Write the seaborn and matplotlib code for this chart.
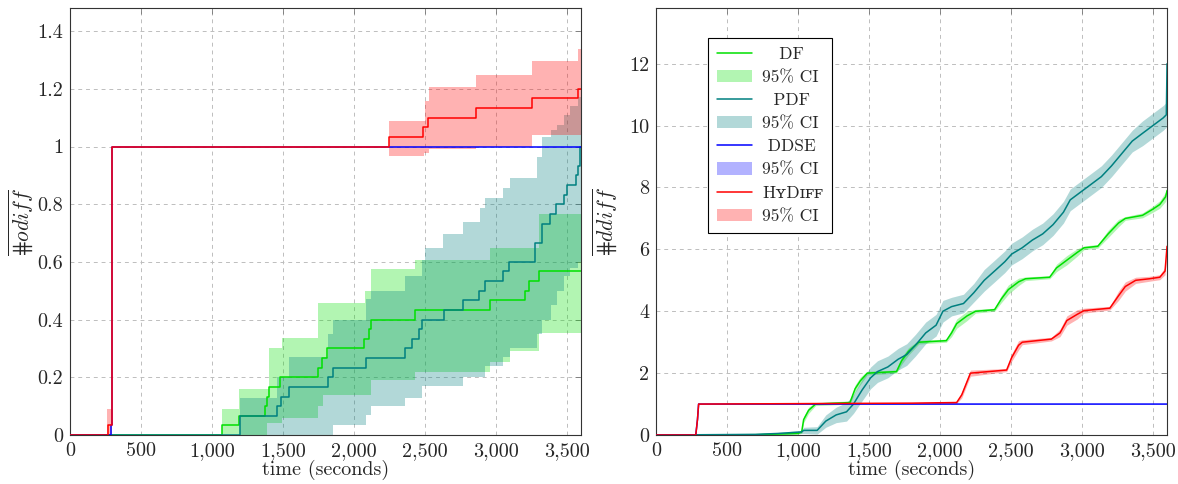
import numpy as np
import seaborn as sns
import matplotlib as mpl
import matplotlib.pyplot as plt
from matplotlib.lines import Line2D
from matplotlib.patches import Patch
from matplotlib.ticker import FuncFormatter, MultipleLocator

# ---------------- left panel: #odiff (step curves) ----------------
df_l_t = [0, 1071, 1188, 1374, 1390, 1400, 1482, 1746, 1774, 1812, 2071, 2110,
          2123, 2428, 2958, 3205, 3233, 3304, 3600]
df_l_y = [0, .033, .067, .1, .133, .167, .2, .233, .267, .3, .333, .367,
          .4, .433, .467, .5, .533, .567, .567]
df_l_ci_t = [0, 1071, 1188, 1388, 1400, 1491, 1750, 1781, 2080, 2123, 2428,
             2958, 3099, 3304, 3600]
df_l_hi = [0, .09, .158, .158, .3, .337, .458, .458, .498, .576, .607,
           .648, .648, .767, .767]
df_l_lo = [0, 0, 0, .04, .04, .06, .1, .14, .14, .19, .22,
           .254, .29, .354, .371]

pdf_l_t = [0, 1198, 1456, 1487, 1541, 1821, 1851, 2082, 2357, 2407, 2460, 2482,
           2633, 2770, 2882, 2922, 3052, 3095, 3276, 3323, 3382, 3424, 3483,
           3504, 3562, 3580, 3596, 3600]
pdf_l_y = [0, .067, .1, .133, .167, .2, .233, .267, .3, .333, .367, .4,
           .433, .467, .5, .533, .567, .6, .667, .733, .767, .8, .833,
           .867, .9, .933, 1.0, 1.0]
pdf_l_ci_t = [0, 1198, 1456, 1541, 1821, 1851, 2082, 2120, 2357, 2482, 2500,
              2628, 2770, 2887, 2922, 3052, 3099, 3287, 3323, 3390, 3430,
              3480, 3520, 3577, 3600]
pdf_l_hi = [0, .13, .2, .27, .35, .4, .47, .5, .55, .607, .648,
            .697, .737, .786, .82, .855, .89, .965, 1.034, 1.057, 1.074,
            1.11, 1.14, 1.17, 1.17]
pdf_l_lo = [0, 0, 0, 0, 0, .035, .07, .1, .13, .17, .17,
            .17, .2, .2, .24, .27, .3, .35, .4, .45, .5,
            .55, .58, .6, .6]

ddse_l_t = [0, 290, 298, 3600]
ddse_l_y = [0, .033, 1.0, 1.0]

hy_l_t = [0, 268, 296, 2245, 2490, 2525, 2859, 3252, 3577, 3600]
hy_l_y = [0, .033, 1.0, 1.033, 1.067, 1.1, 1.133, 1.167, 1.2, 1.2]
hy_l_ci_t = [0, 262, 296, 2245, 2492, 2501, 2530, 2859, 3252, 3577, 3600]
hy_l_hi = [0, .09, 1.0, 1.089, 1.089, 1.158, 1.207, 1.247, 1.297, 1.337, 1.337]
hy_l_lo = [0, 0, 1.0, .968, .976, .976, .99, 1.0, 1.04, 1.04, 1.04]

# ---------------- right panel: #ddiff ----------------
df_r_t = [0, 700, 1000, 1026, 1040, 1075, 1124, 1366, 1403, 1439, 1488,
          1694, 1730, 1778, 1851, 2045, 2082, 2118, 2191, 2251, 2385, 2433,
          2482, 2554, 2603, 2773, 2821, 2894, 2967, 3015, 3112, 3185, 3258,
          3306, 3427, 3500, 3549, 3590, 3600]
df_r_y = [0, .01, .05, .1, .5, .8, 1.0, 1.05, 1.5, 1.75, 2.0,
          2.05, 2.4, 2.7, 3.0, 3.05, 3.3, 3.6, 3.85, 4.0, 4.05, 4.4,
          4.7, 4.95, 5.05, 5.1, 5.4, 5.65, 5.9, 6.05, 6.1, 6.5, 6.85,
          7.0, 7.1, 7.3, 7.45, 7.7, 7.9]
df_r_hw = [0, 0, .02, .05, .1, .1, .05, .05, .12, .12, .06,
           .05, .12, .12, .06, .05, .12, .15, .15, .06, .05, .12,
           .15, .12, .06, .05, .12, .15, .12, .06, .06, .12, .12,
           .06, .08, .1, .12, .15, .15]

pdf_r_t = [0, 700, 856, 1026, 1040, 1135, 1196, 1269, 1342, 1391, 1451,
           1512, 1560, 1633, 1706, 1766, 1827, 1900, 1973, 2021, 2082,
           2166, 2239, 2312, 2385, 2457, 2506, 2579, 2651, 2724, 2797,
           2870, 2918, 2991, 3064, 3137, 3209, 3282, 3355, 3427, 3500,
           3573, 3595, 3600]
pdf_r_y = [0, .02, .05, .1, .15, .15, .45, .65, .75, 1.0, 1.45,
           1.85, 2.05, 2.2, 2.45, 2.6, 2.9, 3.3, 3.55, 4.0, 4.15,
           4.25, 4.6, 5.0, 5.3, 5.6, 5.85, 6.05, 6.3, 6.5, 6.8,
           7.2, 7.6, 7.85, 8.1, 8.35, 8.7, 9.1, 9.5, 9.75, 10.0,
           10.25, 10.35, 12.0]
pdf_r_hw = [0, .02, .03, .05, .1, .12, .2, .25, .3, .3, .35,
            .35, .35, .35, .35, .35, .35, .35, .35, .35, .3,
            .3, .3, .35, .35, .35, .35, .35, .35, .35, .35,
            .35, .35, .35, .35, .35, .35, .35, .35, .4, .4,
            .4, .4, .4]

ddse_r_t = [0, 280, 292, 300, 3600]
ddse_r_y = [0, 0, .5, 1.0, 1.0]

hy_r_t = [0, 280, 292, 300, 1800, 2118, 2154, 2215, 2470, 2505, 2554, 2580,
          2785, 2846, 2894, 2967, 3015, 3197, 3258, 3306, 3379, 3476, 3549,
          3586, 3600]
hy_r_y = [0, 0, .5, 1.0, 1.03, 1.05, 1.3, 2.0, 2.1, 2.5, 2.9, 3.0,
          3.1, 3.3, 3.7, 3.9, 4.02, 4.1, 4.5, 4.8, 5.0, 5.05, 5.1,
          5.3, 6.1]
hy_r_hw = [0, 0, .05, 0, .02, .03, .1, .1, .05, .12, .15, .08,
           .06, .12, .15, .15, .08, .06, .15, .15, .1, .08, .08,
           .12, .12]

# legend labels (leading spaces centre the short names like the original)
labels = ["   DF", "95% CI", "  PDF", "95% CI", " DDSE", "95% CI",
          "H\u028fD\u026a\ua730\ua730", "95% CI"]
colors = {"DF": "#00e000", "PDF": "#008080", "DDSE": "#0000ff", "HyDiff": "#ff0000"}

# Set plot parameters
sns.set_style("white")
mpl.rcParams["font.family"] = ["cmr10", "DejaVu Serif"]
mpl.rcParams["mathtext.fontset"] = "cm"
mpl.rcParams["axes.formatter.use_mathtext"] = True
mpl.rcParams["axes.unicode_minus"] = False

LW = 1.1
ALPHA = 0.3


def style_axis(ax, ymax, ystep, ylabel, label_x):
    ax.set_xlim(0, 3600)
    ax.set_ylim(0, ymax)
    ax.xaxis.set_major_locator(MultipleLocator(500))
    ax.yaxis.set_major_locator(MultipleLocator(ystep))
    ax.xaxis.set_major_formatter(FuncFormatter(lambda v, p: f"{int(round(v)):,}"))
    ax.yaxis.set_major_formatter(FuncFormatter(lambda v, p: f"{round(v, 1):g}"))
    ax.tick_params(direction="in", length=4, width=0.6, color="#777777",
                   top=True, right=True, labelsize=14.5, pad=5)
    ax.grid(True, color="#bdbdbd", lw=0.7, ls=(0, (4, 4)))
    ax.set_axisbelow(True)
    for s in ax.spines.values():
        s.set_color("#333333")
        s.set_linewidth(0.8)
    ax.set_xlabel("time (seconds)", fontsize=14.5, labelpad=0)
    ax.set_ylabel(ylabel, fontsize=15.5)
    ax.yaxis.set_label_coords(label_x, 0.5)


fig = plt.figure(figsize=(11.78, 4.84), dpi=100)
ax1 = fig.add_axes([0.0594, 0.1012, 0.4338, 0.8822])
ax2 = fig.add_axes([0.5569, 0.1012, 0.4338, 0.8822])

# Left panel: step curves with step confidence bands
for t, lo, hi, c in [(df_l_ci_t, df_l_lo, df_l_hi, colors["DF"]),
                     (pdf_l_ci_t, pdf_l_lo, pdf_l_hi, colors["PDF"]),
                     (hy_l_ci_t, hy_l_lo, hy_l_hi, colors["HyDiff"])]:
    ax1.fill_between(t, lo, hi, step="post", color=c, alpha=ALPHA, lw=0, zorder=1)

for t, y, c in [(df_l_t, df_l_y, colors["DF"]),
                (pdf_l_t, pdf_l_y, colors["PDF"]),
                (ddse_l_t, ddse_l_y, colors["DDSE"]),
                (hy_l_t, hy_l_y, colors["HyDiff"])]:
    sns.lineplot(x=t, y=y, ax=ax1, color=c, lw=LW, drawstyle="steps-post",
                 estimator=None, zorder=3)

# Right panel: curves with narrow bands
for t, y, hw, c in [(df_r_t, df_r_y, df_r_hw, colors["DF"]),
                    (pdf_r_t, pdf_r_y, pdf_r_hw, colors["PDF"]),
                    (hy_r_t, hy_r_y, hy_r_hw, colors["HyDiff"])]:
    y = np.array(y)
    hw = np.array(hw)
    ax2.fill_between(t, np.clip(y - hw, 0, None), y + hw, color=c, alpha=ALPHA,
                     lw=0, zorder=1)

for t, y, c in [(df_r_t, df_r_y, colors["DF"]),
                (pdf_r_t, pdf_r_y, colors["PDF"]),
                (ddse_r_t, ddse_r_y, colors["DDSE"]),
                (hy_r_t, hy_r_y, colors["HyDiff"])]:
    sns.lineplot(x=t, y=y, ax=ax2, color=c, lw=LW, estimator=None, zorder=3)

# mathtext has no '#', so use the look-alike U+22D5
style_axis(ax1, 1.48, 0.2, "$\\overline{\u22d5odiff}$", -0.068)
style_axis(ax2, 13.8, 2, "$\\overline{\u22d5ddiff}$", -0.072)

# Legend (right panel)
handles = []
for c in colors.values():
    handles.append(Line2D([], [], color=c, lw=LW))
    handles.append(Patch(facecolor=c, alpha=ALPHA, edgecolor="none"))
leg = ax2.legend(handles, labels, loc="upper left", bbox_to_anchor=(0.102, 0.93),
                 borderaxespad=0, fontsize=12.5, frameon=True, fancybox=False,
                 edgecolor="black", framealpha=1, handlelength=2.0,
                 handletextpad=0.6, labelspacing=0.45, borderpad=0.5)
leg.get_frame().set_linewidth(0.8)

fig.savefig("out.png", dpi=100)
